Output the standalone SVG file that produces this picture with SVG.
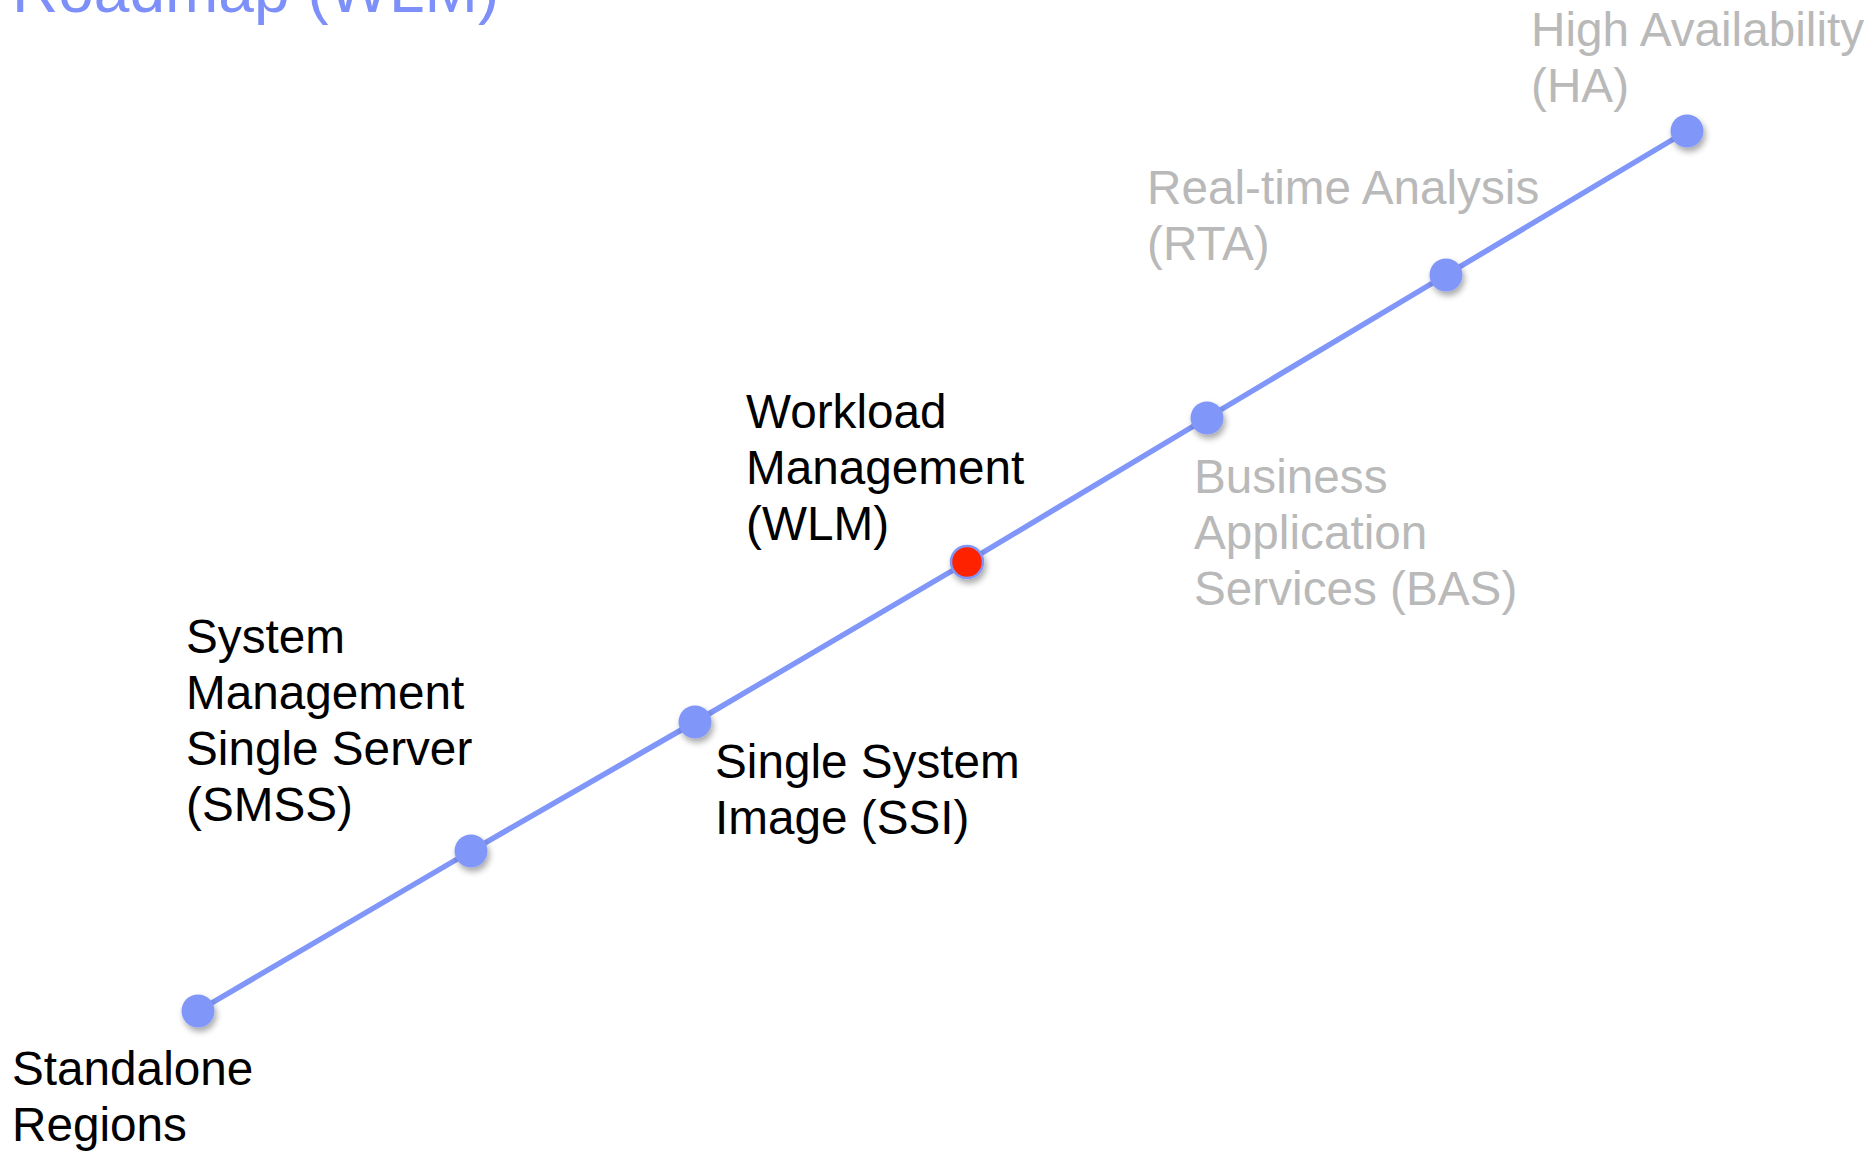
<svg xmlns="http://www.w3.org/2000/svg" width="1874" height="1151" viewBox="0 0 1874 1151">
<style>
text{font-family:"Liberation Sans",Arial,Helvetica,sans-serif;font-size:47.7px}
.dk{fill:#000}
.gy{fill:#b9b9b9}
.title{fill:#7d8ff9;font-size:64px}
.dot{fill:#8096f8;filter:url(#sh)}
.red{fill:#ff2200;stroke:#8096f8;stroke-width:2.5;filter:url(#sh)}
.ln{fill:none;stroke:#8096f8;stroke-width:5.5;stroke-linecap:round;stroke-linejoin:round}
</style>
<defs>
<filter id="sh" x="-50%" y="-50%" width="200%" height="200%">
<feDropShadow dx="2" dy="4" stdDeviation="3" flood-color="#000" flood-opacity="0.35"/>
</filter>
</defs>
<rect width="1874" height="1151" fill="#fff"/>
<text class="title" x="12" y="12">Roadmap (WLM)</text>
<g id="connectors">
<polyline class="ln" points="198,1011 471,851 695,722 967,562 1207,418 1446,275 1687,131"/>
</g>
<g id="n-standalone"><circle class="dot" cx="198" cy="1011" r="16.5"/>
<text class="dk" x="12" y="1085">Standalone</text><text class="dk" x="12" y="1141">Regions</text></g>
<g id="n-smss"><circle class="dot" cx="471" cy="851" r="16.5"/>
<text class="dk" x="186" y="653">System</text><text class="dk" x="186" y="709">Management</text><text class="dk" x="186" y="765">Single Server</text><text class="dk" x="186" y="821">(SMSS)</text></g>
<g id="n-ssi"><circle class="dot" cx="695" cy="722" r="16.5"/>
<text class="dk" x="715" y="778">Single System</text><text class="dk" x="715" y="834">Image (SSI)</text></g>
<g id="n-wlm"><circle class="red" cx="967" cy="562" r="16"/>
<text class="dk" x="746" y="428">Workload</text><text class="dk" x="746" y="484">Management</text><text class="dk" x="746" y="540">(WLM)</text></g>
<g id="n-bas"><circle class="dot" cx="1207" cy="418" r="16.5"/>
<text class="gy" x="1194" y="493">Business</text><text class="gy" x="1194" y="549">Application</text><text class="gy" x="1194" y="605">Services (BAS)</text></g>
<g id="n-rta"><circle class="dot" cx="1446" cy="275" r="16.5"/>
<text class="gy" x="1147" y="204">Real-time Analysis</text><text class="gy" x="1147" y="260">(RTA)</text></g>
<g id="n-ha"><circle class="dot" cx="1687" cy="131" r="16.5"/>
<text class="gy" x="1531" y="46">High Availability</text><text class="gy" x="1531" y="102">(HA)</text></g>
</svg>
